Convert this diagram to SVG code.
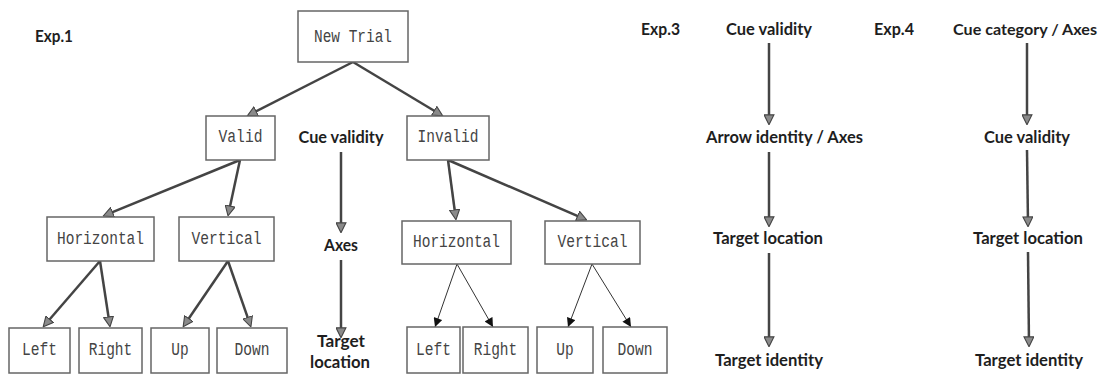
<svg xmlns="http://www.w3.org/2000/svg" width="1103" height="374" viewBox="0 0 1103 374">
<style>
.box{fill:#fff;stroke:#666;stroke-width:1.5}
.bt{font-family:"Liberation Mono",monospace;font-size:19px;fill:#444;text-anchor:middle}
.lb{font-family:Lato,"Liberation Sans",sans-serif;font-weight:bold;font-size:17px;fill:#1e1e1e;text-anchor:middle}
.lbl{font-family:Lato,"Liberation Sans",sans-serif;font-weight:bold;font-size:17px;fill:#1e1e1e}
.thick{stroke:#444;stroke-width:2.5;fill:none;marker-end:url(#tri)}
.thin{stroke:#333;stroke-width:1;fill:none;marker-end:url(#blk)}
</style>
<defs>
<marker id="tri" viewBox="0 0 10 10" refX="7" refY="5" markerWidth="11" markerHeight="11" markerUnits="userSpaceOnUse" orient="auto">
<path d="M0.5,0.5 L9.5,5 L0.5,9.5 z" fill="#8a8a8a" stroke="#444" stroke-width="1"/>
</marker>
<marker id="blk" viewBox="0 0 10 10" refX="10" refY="5" markerWidth="10" markerHeight="9" markerUnits="userSpaceOnUse" orient="auto">
<path d="M0,0 L10,5 L0,10 z" fill="#111"/>
</marker>
</defs>
<rect width="1103" height="374" fill="#fff"/>
<g id="labels">
<text class="lbl" x="35" y="42" textLength="38" lengthAdjust="spacingAndGlyphs">Exp.1</text>
<text class="lbl" x="641" y="35" textLength="39" lengthAdjust="spacingAndGlyphs">Exp.3</text>
<text class="lbl" x="874" y="35" textLength="40" lengthAdjust="spacingAndGlyphs">Exp.4</text>
</g>
<g id="connectors">
<line class="thick" x1="353" y1="62" x2="249.7" y2="114.6"/>
<line class="thick" x1="353" y1="62" x2="440.4" y2="114.5"/>
<line class="thick" x1="240" y1="160" x2="105.8" y2="214.9"/>
<line class="thick" x1="240" y1="160" x2="228.6" y2="213.1"/>
<line class="thick" x1="100" y1="261" x2="45" y2="324.7"/>
<line class="thick" x1="100" y1="261" x2="109.6" y2="324"/>
<line class="thick" x1="228" y1="261" x2="184.7" y2="324.5"/>
<line class="thick" x1="228" y1="261" x2="250" y2="324.2"/>
<line class="thick" x1="448" y1="160" x2="455.6" y2="217"/>
<line class="thick" x1="448" y1="160" x2="584.2" y2="218.8"/>
<line class="thin" x1="457" y1="264" x2="435" y2="327"/>
<line class="thin" x1="457" y1="264" x2="493" y2="327"/>
<line class="thin" x1="592" y1="264" x2="568" y2="327"/>
<line class="thin" x1="592" y1="264" x2="631" y2="327"/>
<line class="thick" x1="341" y1="152" x2="341" y2="230"/>
<line class="thick" x1="341" y1="260" x2="341" y2="335"/>
<line class="thick" x1="769" y1="43" x2="769" y2="122"/>
<line class="thick" x1="769" y1="152" x2="769" y2="224"/>
<line class="thick" x1="769" y1="253" x2="769" y2="344"/>
<line class="thick" x1="1027" y1="43" x2="1027" y2="122"/>
<line class="thick" x1="1027" y1="150" x2="1028" y2="224"/>
<line class="thick" x1="1028" y1="252" x2="1029" y2="344"/>
</g>
<g id="n-newtrial"><rect class="box" x="298" y="11" width="110" height="51"/><text class="bt" x="353" y="42" textLength="78" lengthAdjust="spacingAndGlyphs">New Trial</text></g>
<g id="n-valid"><rect class="box" x="206" y="116" width="69" height="44"/><text class="bt" x="240.5" y="142" textLength="44" lengthAdjust="spacingAndGlyphs">Valid</text></g>
<g id="n-invalid"><rect class="box" x="407" y="116" width="82" height="44"/><text class="bt" x="448" y="142" textLength="61" lengthAdjust="spacingAndGlyphs">Invalid</text></g>
<g id="n-h1"><rect class="box" x="47" y="217" width="107" height="44"/><text class="bt" x="100.5" y="244" textLength="87" lengthAdjust="spacingAndGlyphs">Horizontal</text></g>
<g id="n-v1"><rect class="box" x="179" y="217" width="95" height="44"/><text class="bt" x="226.5" y="244" textLength="70" lengthAdjust="spacingAndGlyphs">Vertical</text></g>
<g id="n-left1"><rect class="box" x="9" y="328" width="61" height="45"/><text class="bt" x="39.5" y="355" textLength="35" lengthAdjust="spacingAndGlyphs">Left</text></g>
<g id="n-right1"><rect class="box" x="79" y="328" width="63" height="45"/><text class="bt" x="110.5" y="355" textLength="43.5" lengthAdjust="spacingAndGlyphs">Right</text></g>
<g id="n-up1"><rect class="box" x="151" y="328" width="58" height="45"/><text class="bt" x="180" y="355" textLength="17.4" lengthAdjust="spacingAndGlyphs">Up</text></g>
<g id="n-down1"><rect class="box" x="217" y="328" width="70" height="45"/><text class="bt" x="252" y="355" textLength="35" lengthAdjust="spacingAndGlyphs">Down</text></g>
<g id="n-h2"><rect class="box" x="402" y="221" width="109" height="43"/><text class="bt" x="456.5" y="247" textLength="87" lengthAdjust="spacingAndGlyphs">Horizontal</text></g>
<g id="n-v2"><rect class="box" x="545" y="221" width="95" height="43"/><text class="bt" x="592.5" y="247" textLength="70" lengthAdjust="spacingAndGlyphs">Vertical</text></g>
<g id="n-left2"><rect class="box" x="407" y="327" width="53" height="46"/><text class="bt" x="433.5" y="355" textLength="35" lengthAdjust="spacingAndGlyphs">Left</text></g>
<g id="n-right2"><rect class="box" x="463" y="327" width="65" height="46"/><text class="bt" x="495.5" y="355" textLength="43.5" lengthAdjust="spacingAndGlyphs">Right</text></g>
<g id="n-up2"><rect class="box" x="537" y="327" width="56" height="46"/><text class="bt" x="565" y="355" textLength="17.4" lengthAdjust="spacingAndGlyphs">Up</text></g>
<g id="n-down2"><rect class="box" x="603" y="327" width="64" height="46"/><text class="bt" x="635" y="355" textLength="35" lengthAdjust="spacingAndGlyphs">Down</text></g>
<g id="e1-cue"><text class="lb" x="341" y="143" textLength="85" lengthAdjust="spacingAndGlyphs">Cue validity</text></g>
<g id="e1-axes"><text class="lb" x="341" y="251" textLength="34" lengthAdjust="spacingAndGlyphs">Axes</text></g>
<g id="e1-target"><text class="lb" x="341" y="347" textLength="48" lengthAdjust="spacingAndGlyphs">Target</text><text class="lb" x="340" y="368" textLength="60" lengthAdjust="spacingAndGlyphs">location</text></g>
<g id="e3-cue"><text class="lb" x="769" y="35" textLength="86" lengthAdjust="spacingAndGlyphs">Cue validity</text></g>
<g id="e3-arrow"><text class="lb" x="784.5" y="143" textLength="157" lengthAdjust="spacingAndGlyphs">Arrow identity / Axes</text></g>
<g id="e3-loc"><text class="lb" x="768" y="244" textLength="110" lengthAdjust="spacingAndGlyphs">Target location</text></g>
<g id="e3-id"><text class="lb" x="769" y="366" textLength="108" lengthAdjust="spacingAndGlyphs">Target identity</text></g>
<g id="e4-cat"><text class="lb" x="1025" y="35" style="font-size:16px" textLength="144" lengthAdjust="spacingAndGlyphs">Cue category / Axes</text></g>
<g id="e4-cue"><text class="lb" x="1027" y="143" textLength="86" lengthAdjust="spacingAndGlyphs">Cue validity</text></g>
<g id="e4-loc"><text class="lb" x="1028" y="244" textLength="110" lengthAdjust="spacingAndGlyphs">Target location</text></g>
<g id="e4-id"><text class="lb" x="1029" y="366" textLength="108" lengthAdjust="spacingAndGlyphs">Target identity</text></g>
</svg>
